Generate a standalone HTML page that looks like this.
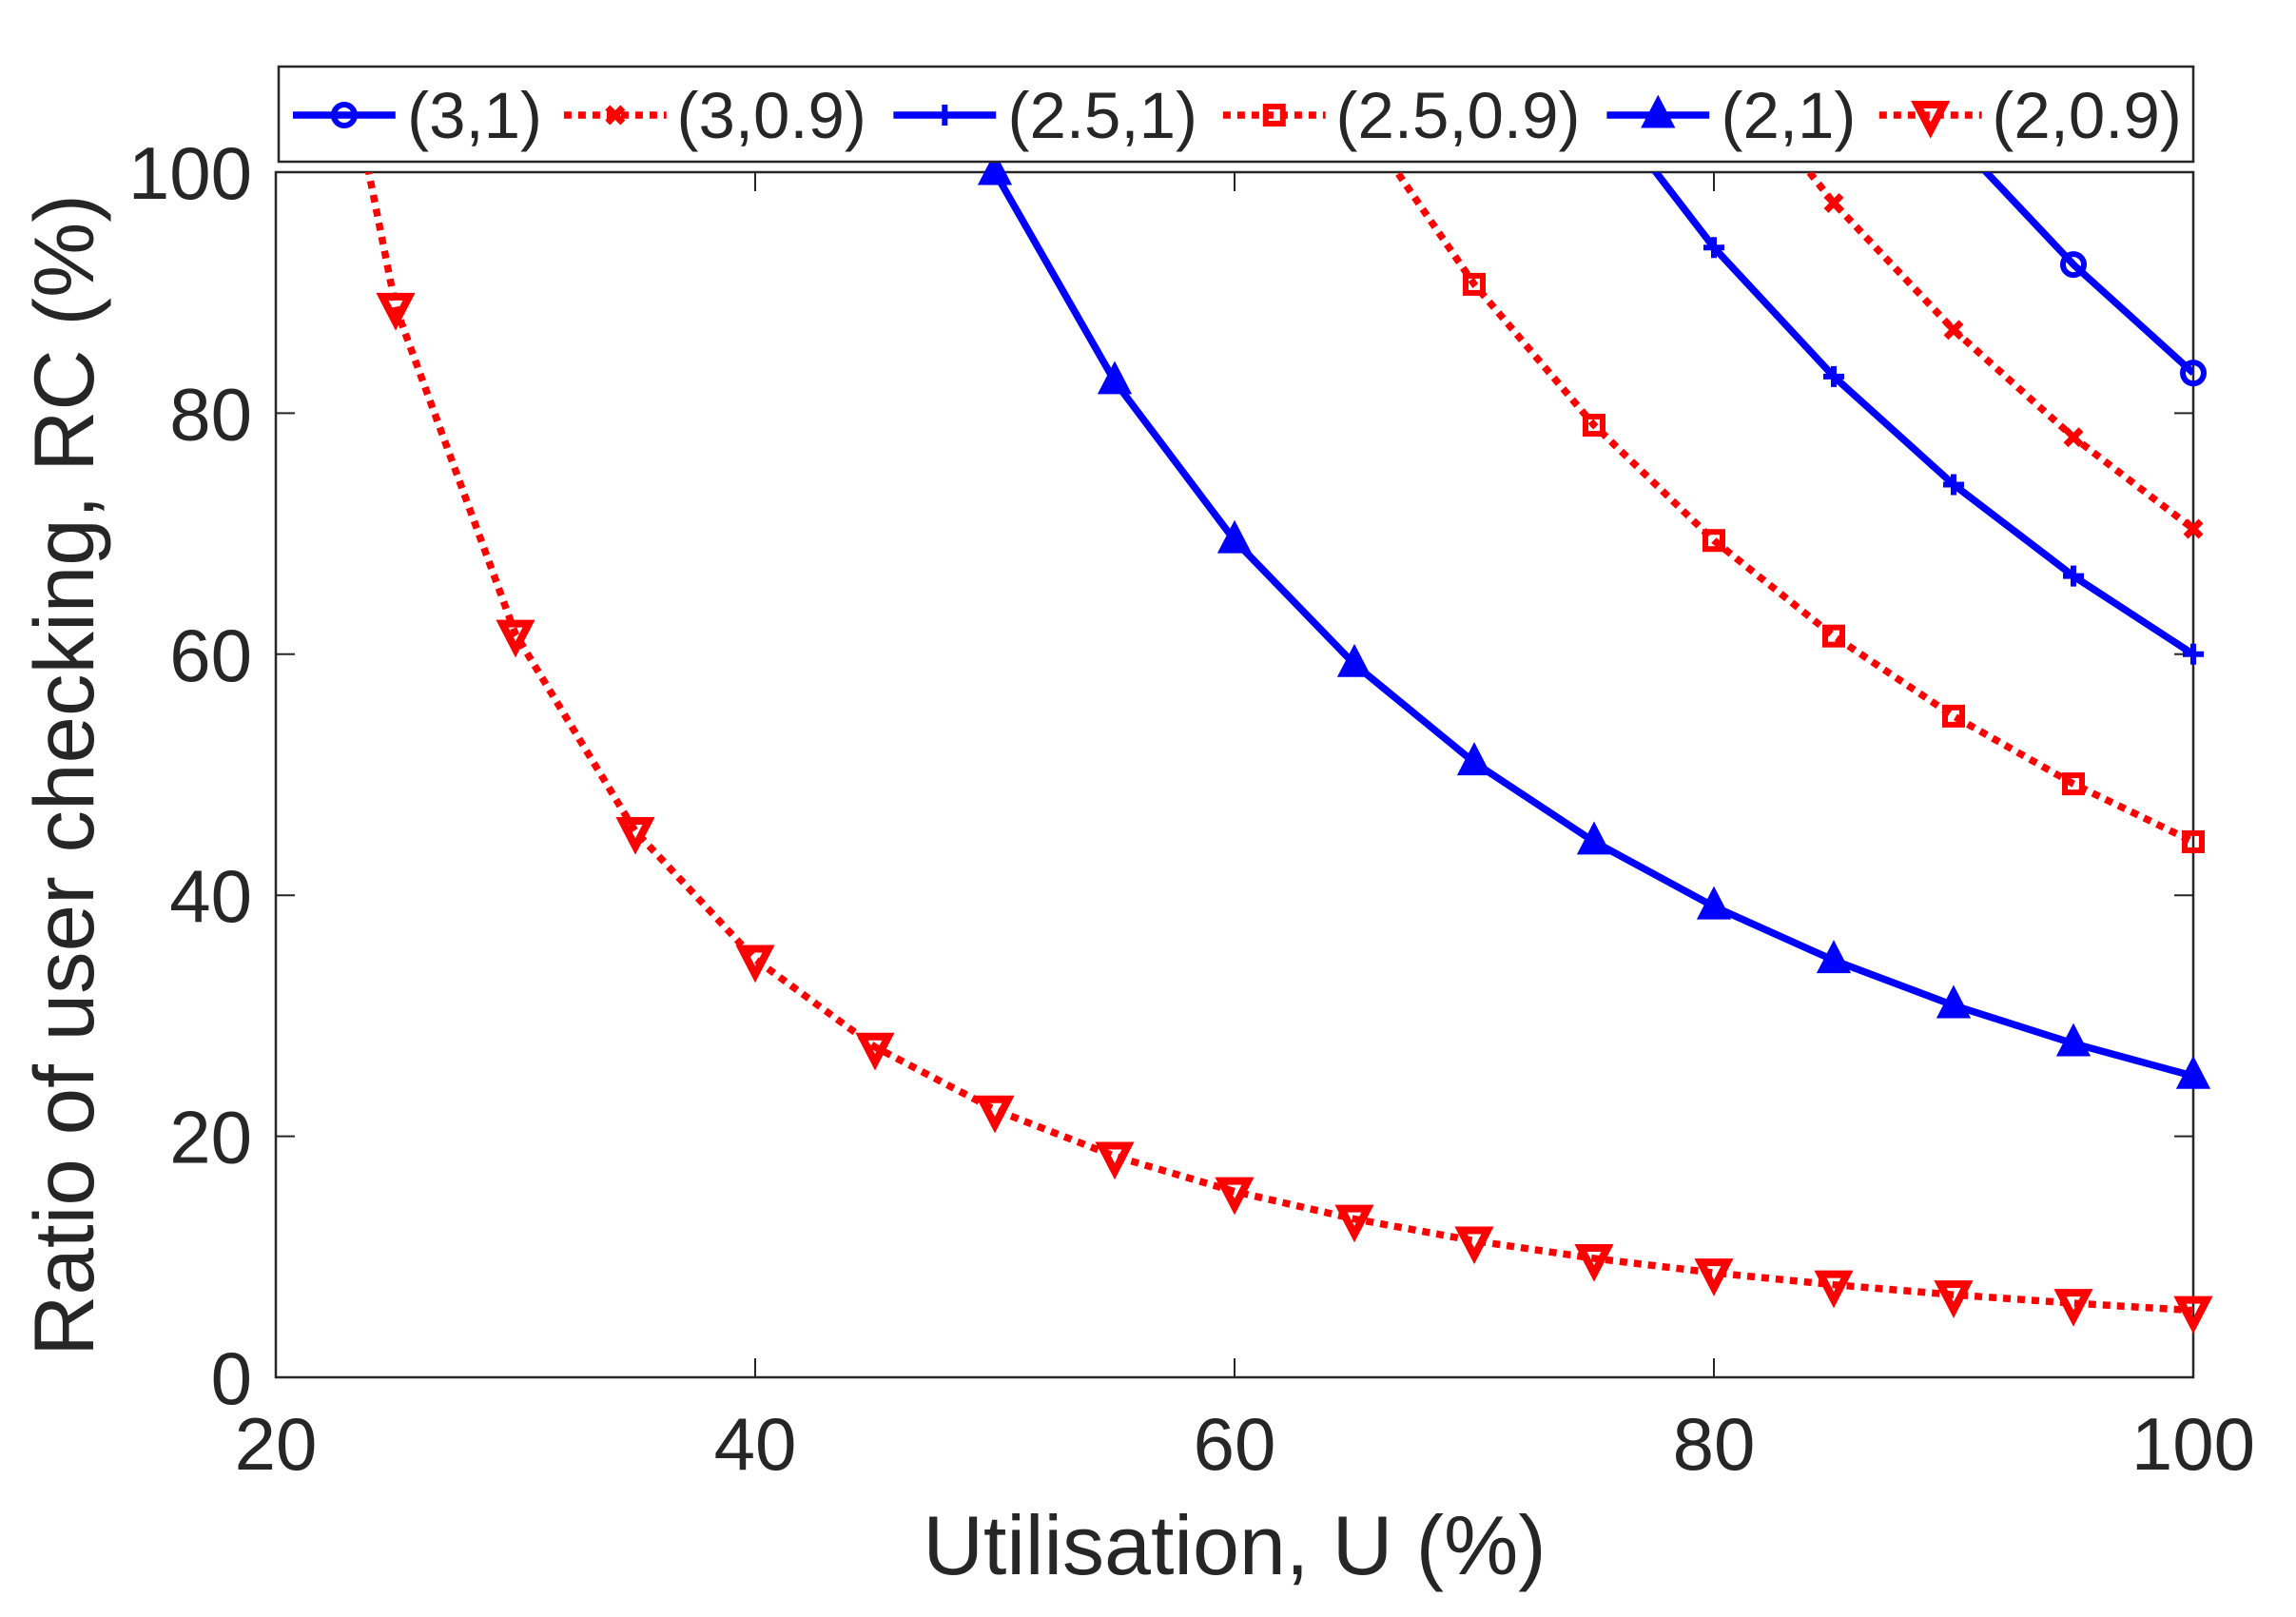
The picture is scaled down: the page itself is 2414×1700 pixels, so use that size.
<!DOCTYPE html>
<html><head><meta charset="utf-8"><style>
html,body{margin:0;padding:0;background:#fff;}
svg text{font-family:"Liberation Sans",Arial,sans-serif;fill:#262626;}
</style></head><body>
<svg id="s" width="2414" height="1695" xmlns="http://www.w3.org/2000/svg">
<defs><clipPath id="c"><rect x="290" y="181" width="2016" height="1267"/></clipPath></defs>
<rect x="290" y="181" width="2016" height="1267" fill="#fff" stroke="#262626" stroke-width="2.5"/>
<g id="ticks" stroke="#262626" stroke-width="2"></g>
<g id="labels" font-size="78"></g>
<g id="series" clip-path="url(#c)"></g>
<g id="marks"></g>
<text x="1298" y="1655" font-size="88" text-anchor="middle">Utilisation, U (%)</text>
<text transform="translate(98,815) rotate(-90)" font-size="89" text-anchor="middle">Ratio of user checking, RC (%)</text>
<rect x="293" y="70" width="2013" height="100" fill="#fff" stroke="#262626" stroke-width="2.5"/>
<g id="legend" font-size="69"></g>
</svg>
<script>
const X=u=>290+(u-20)*2016/80, Y=v=>1448-v*12.67;
const NS="http://www.w3.org/2000/svg";
function el(p,t,a,txt){const e=document.createElementNS(NS,t);for(const k in a)e.setAttribute(k,a[k]);if(txt!==undefined)e.textContent=txt;document.getElementById(p).appendChild(e);return e;}
for(const u of [20,40,60,80,100]){const x=X(u);el('ticks','line',{x1:x,y1:1448,x2:x,y2:1428});el('ticks','line',{x1:x,y1:181,x2:x,y2:201});
 el('labels','text',{x:x,y:1545,'text-anchor':'middle'},u);}
for(const v of [0,20,40,60,80,100]){const y=Y(v);el('ticks','line',{x1:290,y1:y,x2:310,y2:y});el('ticks','line',{x1:2306,y1:y,x2:2286,y2:y});
 el('labels','text',{x:265,y:y+28,'text-anchor':'end'},v);}
function marker(g,type,x,y,col){
 const s=14;
 if(type=='o')el(g,'circle',{cx:x,cy:y,r:11,fill:'none',stroke:col,'stroke-width':6});
 else if(type=='x'){el(g,'path',{d:`M${x-8},${y-8}L${x+8},${y+8}M${x-8},${y+8}L${x+8},${y-8}`,stroke:col,'stroke-width':7});}
 else if(type=='+'){el(g,'path',{d:`M${x-11},${y}L${x+11},${y}M${x},${y-11}L${x},${y+11}`,stroke:col,'stroke-width':6});}
 else if(type=='s')el(g,'rect',{x:x-9,y:y-9,width:18,height:18,fill:'none',stroke:col,'stroke-width':6});
 else if(type=='^')el(g,'path',{d:`M${x},${y-s-2}L${x+s},${y+s-3}L${x-s},${y+s-3}Z`,fill:col,stroke:col,'stroke-width':5});
 else if(type=='v')el(g,'path',{d:`M${x},${y+s+2}L${x+s},${y-s+3}L${x-s},${y-s+3}Z`,fill:'none',stroke:col,'stroke-width':8,'stroke-linejoin':'miter'});
}
const S=[
 {k:833333,col:'#0000ff',d:false,m:'o',lx:[200,278],lab:'(3,1)'},
 {k:704000,col:'#ff0000',d:true,m:'x',lx:[385,462],lab:'(3,0.9)'},
 {k:600000,col:'#0000ff',d:false,m:'+',lx:[610,688],lab:'(2.5,1)'},
 {k:444400,col:'#ff0000',d:true,m:'s',lx:[835,912],lab:'(2.5,0.9)'},
 {k:250000,col:'#0000ff',d:false,m:'^',lx:[1097,1175],lab:'(2,1)'},
 {k:55500,col:'#ff0000',d:true,m:'v',lx:[1283,1360],lab:'(2,0.9)'}];
for(const s of S){
 const pts=[];for(let u=20;u<=100;u+=5)pts.push([u,s.k/(u*u)]);
 const a={points:pts.map(p=>X(p[0])+','+Y(p[1])).join(' '),fill:'none',stroke:s.col,'stroke-width':7.5,'stroke-linejoin':'round'};
 if(s.d){a['stroke-dasharray']='8,7';}
 el('series','polyline',a);
 for(const p of pts)if(p[1]<=100.5)marker('marks',s.m,X(p[0]),Y(p[1]),s.col);
 const x1=s.lx[0]*1.54,x2=(s.lx[0]+70)*1.54;
 const la={x1:x1,y1:121,x2:x2,y2:121,stroke:s.col,'stroke-width':7.5};if(s.d)la['stroke-dasharray']='8,7';
 el('legend','line',la);marker('legend',s.m,(x1+x2)/2,121,s.col);
 el('legend','text',{x:s.lx[1]*1.54,y:145,fill:'#000'},s.lab);
}
</script>
</body></html>
